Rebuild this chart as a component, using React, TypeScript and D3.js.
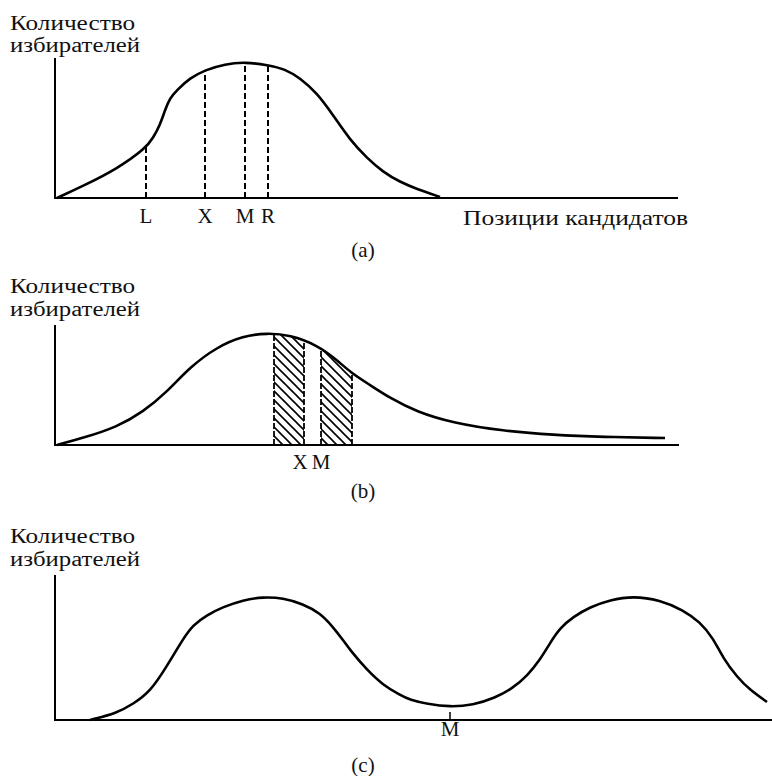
import React from "react";
import * as d3 from "d3";

// ---- Data (position along ideological axis, number of voters) ----
const curveA_x = [2, 28, 62, 91, 98, 105, 110, 115, 122, 135, 150, 170, 190, 213, 230, 245, 262, 278, 295, 312, 328, 345, 362, 385];
const curveA_y = [0, 12, 29, 50, 60, 73, 88, 100, 108, 120, 128, 134, 136, 133, 129, 120, 105, 83, 58, 40, 26, 16, 9, 1];
const markersA = ["L", "X", "M", "R"];
const markersA_x = [91, 150, 190, 213];
const markersA_y = [50, 128, 136, 133];

const curveB_x = [2, 28, 62, 88, 112, 135, 162, 188, 212, 235, 262, 282, 295, 315, 335, 362, 398, 448, 498, 548, 610];
const curveB_y = [0, 7, 18, 33, 53, 78, 98, 109, 112, 110, 100, 85, 73, 60, 47, 33, 22, 14, 10, 8, 7];
const bandsB_x0 = [219, 266];
const bandsB_x1 = [249, 297];
const markersB = ["X", "M"];
const markersB_x = [245, 266];

const curveC_x = [35, 62, 78, 95, 112, 128, 138, 152, 168, 188, 208, 228, 248, 265, 278, 288, 295, 312, 328, 345, 355, 372, 395, 418, 440, 458, 472, 485, 495, 505, 518, 535, 555, 578, 605, 628, 645, 658, 668, 682, 695, 712];
const curveC_y = [0, 7, 16, 28, 54, 81, 95, 105, 113, 120, 123, 122, 116, 107, 93, 80, 70, 50, 35, 25, 20, 16, 13, 15, 22, 32, 44, 60, 77, 92, 103, 113, 120, 124, 120, 110, 98, 82, 62, 43, 30, 18];
const markersC = ["M"];
const markersC_x = [395];

const yTitle = ["Количество", "избирателей"];
const xTitle = "Позиции кандидатов";
const panelLabels = ["(a)", "(b)", "(c)"];

// ---- Layout ----
const W = 772;
const H = 776;
const FONT = "'Liberation Serif', 'Times New Roman', serif";

const panels = [
  { base: 198, axisTop: 58, axisEnd: 623, t1: 30, t2: 52, lblY: 223, capY: 257 },
  { base: 445, axisTop: 325, axisEnd: 624, t1: 293, t2: 316, lblY: 469, capY: 498 },
  { base: 720, axisTop: 575, axisEnd: 717, t1: 543, t2: 566, lblY: 736, capY: 772 },
];

const x = d3.scaleLinear().domain([0, 717]).range([55, 772]);

function makeY(base: number) {
  return d3.scaleLinear().domain([0, 140]).range([base, base - 140]);
}

function zip(xs: number[], ys: number[]) {
  return xs.map((v, i) => [v, ys[i]] as [number, number]);
}

export default function App() {
  const curve = d3.curveBasis;

  const yA = makeY(panels[0].base);
  const yB = makeY(panels[1].base);
  const yC = makeY(panels[2].base);

  const lineA = d3.line<[number, number]>().x((d) => x(d[0])).y((d) => yA(d[1])).curve(curve);
  const lineB = d3.line<[number, number]>().x((d) => x(d[0])).y((d) => yB(d[1])).curve(curve);
  const lineC = d3.line<[number, number]>().x((d) => x(d[0])).y((d) => yC(d[1])).curve(curve);
  const areaA = d3
    .area<[number, number]>()
    .x((d) => x(d[0]))
    .y0(yA(0))
    .y1((d) => yA(d[1]))
    .curve(curve);
  const areaB = d3
    .area<[number, number]>()
    .x((d) => x(d[0]))
    .y0(yB(0))
    .y1((d) => yB(d[1]))
    .curve(curve);

  const dataA = zip(curveA_x, curveA_y);
  const dataB = zip(curveB_x, curveB_y);
  const dataC = zip(curveC_x, curveC_y);

  const axes = (p: typeof panels[0], key: number) => (
    <g key={"ax" + key}>
      <line x1={x(0)} x2={x(0)} y1={p.axisTop} y2={p.base + 1} stroke="#000" strokeWidth={2} />
      <line x1={x(0) - 1} x2={x(p.axisEnd)} y1={p.base} y2={p.base} stroke="#000" strokeWidth={2} />
      <text x={10} y={p.t1} fontSize={20} fontFamily={FONT} fill="#111" textLength={125} lengthAdjust="spacingAndGlyphs">
        {yTitle[0]}
      </text>
      <text x={10} y={p.t2} fontSize={20} fontFamily={FONT} fill="#111" textLength={130} lengthAdjust="spacingAndGlyphs">
        {yTitle[1]}
      </text>
      <text x={363} y={p.capY} fontSize={21} fontFamily={FONT} textAnchor="middle" fill="#111">
        {panelLabels[key]}
      </text>
    </g>
  );

  return (
    <svg
      width={W}
      height={H}
      viewBox={`0 0 ${W} ${H}`}
      style={{ position: "absolute", left: 0, top: 0, background: "#fff" }}
    >
      <defs>
        <pattern id="hatch" patternUnits="userSpaceOnUse" width={9} height={9}>
          <path d="M0,0 L9,9 M-2,7 L2,11 M7,-2 L11,2" stroke="#000" strokeWidth={1.6} />
        </pattern>
        <clipPath id="underB">
          <path d={areaB(dataB) || ""} />
        </clipPath>
        <clipPath id="underA">
          <path d={areaA(dataA) || ""} />
        </clipPath>
      </defs>
      <rect width={W} height={H} fill="#fff" />

      {panels.map((p, i) => axes(p, i))}

      {/* Panel (a) */}
      <g clipPath="url(#underA)">
        {markersA_x.map((mx, i) => (
          <line
            key={"ml" + i}
            x1={x(mx)}
            x2={x(mx)}
            y1={yA(0)}
            y2={yA(markersA_y[i] + 6)}
            stroke="#000"
            strokeWidth={2}
            strokeDasharray="6,3"
          />
        ))}
      </g>
      {markersA_x.map((mx, i) => (
        <text key={"mt" + i} x={x(mx)} y={panels[0].lblY} fontSize={21} fontFamily={FONT} textAnchor="middle" fill="#111">
          {markersA[i]}
        </text>
      ))}
      <path d={lineA(dataA) || ""} fill="none" stroke="#000" strokeWidth={2.6} />
      <text x={463} y={panels[0].lblY + 2} fontSize={21} fontFamily={FONT} fill="#111" textLength={225} lengthAdjust="spacingAndGlyphs">
        {xTitle}
      </text>

      {/* Panel (b) */}
      <g clipPath="url(#underB)">
        {bandsB_x0.map((x0, i) => (
          <rect
            key={"hb" + i}
            x={x(x0)}
            width={x(bandsB_x1[i]) - x(x0)}
            y={yB(140)}
            height={yB(0) - yB(140)}
            fill="url(#hatch)"
          />
        ))}
        {bandsB_x0.map((x0, i) => (
          <g key={"eb" + i}>
            {[x0, bandsB_x1[i]].map((xx, j) => (
              <line
                key={j}
                x1={x(xx)}
                x2={x(xx)}
                y1={yB(0)}
                y2={yB(140)}
                stroke="#000"
                strokeWidth={1.8}
                strokeDasharray="6,2"
              />
            ))}
          </g>
        ))}
      </g>
      <path d={lineB(dataB) || ""} fill="none" stroke="#000" strokeWidth={2.6} />
      {markersB_x.map((mx, i) => (
        <text key={"mb" + i} x={x(mx)} y={panels[1].lblY} fontSize={21} fontFamily={FONT} textAnchor="middle" fill="#111">
          {markersB[i]}
        </text>
      ))}

      {/* Panel (c) */}
      <path d={lineC(dataC) || ""} fill="none" stroke="#000" strokeWidth={2.6} />
      {markersC_x.map((mx, i) => (
        <g key={"mc" + i}>
          <line x1={x(mx)} x2={x(mx)} y1={yC(0)} y2={yC(0) - 8} stroke="#000" strokeWidth={1.5} />
          <text x={x(mx)} y={panels[2].lblY} fontSize={21} fontFamily={FONT} textAnchor="middle" fill="#111">
            {markersC[i]}
          </text>
        </g>
      ))}
    </svg>
  );
}
